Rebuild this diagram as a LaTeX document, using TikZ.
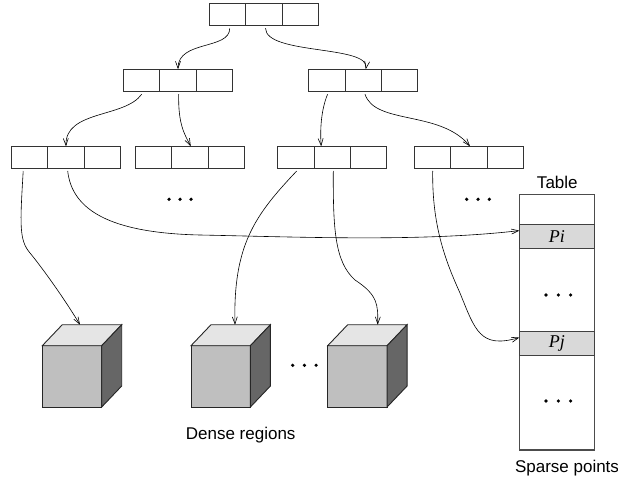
\documentclass[tikz,border=0pt]{standalone}
\usepackage{fontspec}
\setmainfont{Liberation Sans}
\newfontfamily\tnrfont{Liberation Serif}
\usetikzlibrary{arrows.meta,calc}
\newcommand\recnode[3]{%
  \node[cell] (#1b) at (#2,#3) {};
  \node[cell,anchor=east] (#1a) at (#1b.west) {};
  \node[cell,anchor=west] (#1c) at (#1b.east) {};}
\newcommand\cubeshape[3]{%
  \node[cubefront,anchor=north west] (#1) at (#2,#3) {};
  \draw[cubeline,fill=black!10] (#1.north west) -- ++(20,-21) -- ++(59.4,0) -- (#1.north east) -- cycle;
  \draw[cubeline,fill=black!60] (#1.north east) -- ++(20,-21) -- ++(0,61.3) -- (#1.south east) -- cycle;}
\newcommand\threedots[3]{%
  \fill (#1,#3) circle (1.8) (#1+#2,#3) circle (1.8) (#1+2*#2,#3) circle (1.8);}
\begin{document}
\begin{tikzpicture}[x=1pt,y=-1pt,
  cell/.style={draw=black!80,line width=0.9pt,minimum width=36.3pt,minimum height=22pt,inner sep=0pt,outer sep=0pt},
  link/.style={line width=0.6pt,-{Straight Barb[length=7pt,width=5pt]}},
  cubeline/.style={draw=black!85,line width=0.9pt,line join=miter},
  cubefront/.style={cubeline,fill=black!25,minimum width=59.4pt,minimum height=61.3pt,inner sep=0pt,outer sep=0pt},
  lbl/.style={font=\fontsize{17}{20}\selectfont,inner sep=0pt,anchor=base},
  row/.style={draw=black!75,line width=0.9pt,fill=black!15,minimum width=75pt,minimum height=23.7pt,inner sep=0pt,outer sep=0pt,anchor=north west,font=\fontsize{18}{20}\selectfont\tnrfont\itshape}]
\useasboundingbox (0,0) rectangle (618,481);

% records
\recnode{t}{264}{14.3}
\recnode{p}{178}{80.2}
\recnode{q}{363.3}{80.2}
\recnode{a}{66}{157.3}
\recnode{b}{189.8}{157.3}
\recnode{c}{332.2}{157.3}
\recnode{d}{468.8}{157.3}

% cubes
\cubeshape{cubeA}{42.3}{345.7}
\cubeshape{cubeB}{191}{345.7}
\cubeshape{cubeC}{327.7}{345.7}
\coordinate (kA) at (80,324.7);
\coordinate (kB) at (235,324.7);
\coordinate (kC) at (377.7,324.7);

% table
\node[draw=black!70,line width=1.1pt,minimum width=75pt,minimum height=255.7pt,inner sep=0pt,outer sep=0pt,anchor=north west] (tab) at (519.3,194.3) {};
\node[row] (rowi) at (519.3,224.3) {Pi};
\node[row] (rowj) at (519.3,331.7) {Pj};

% labels
\node[lbl] (tabl) at (557.3,189) {Table};
\node[lbl] (dense) at (240.7,439.3) {Dense regions};
\node[lbl] (sparse) at (567,472) {Sparse points};

% dots
\threedots{169}{11}{199.3}
\threedots{466.7}{11.3}{199.3}
\threedots{292.7}{11.7}{365.3}
\threedots{546}{12.3}{295}
\threedots{546}{12.3}{401}

% tree connectors
\draw[link] ([shift={(2,3)}]ta.south) .. controls (230,50) and (178,40) .. (pb.north);
\draw[link] ([shift={(1.5,3)}]tb.south) .. controls (266,55) and (370,45) .. ([xshift=2.5]qb.north);
\draw[link] ([shift={(0,3)}]pa.south) .. controls (125,118) and (65,110) .. (ab.north);
\draw[link] ([shift={(0.7,3)}]pb.south) .. controls (178,125) and (185,135) .. ([xshift=1]bb.north);
\draw[link] ([shift={(0.6,3)}]qa.south) .. controls (321,110) and (320,130) .. ([xshift=-11]cb.north);
\draw[link] ([shift={(1.7,3)}]qb.south) .. controls (375,125) and (440,110) .. ([xshift=1.2]db.north);

% leaf connectors
\draw[link] ([shift={(-6.5,2.7)}]aa.south) .. controls (20,225) and (19,240) .. (30,253) .. controls (40,265) and (62,295) .. (kA);
\draw[link] ([shift={(1.7,2.7)}]ab.south) .. controls (72,210) and (110,233) .. (200,235) .. controls (300,237) and (420,242) .. ([yshift=5.5]rowi.west);
\draw[link] ([shift={(0.8,2.7)}]ca.south) .. controls (255,215) and (233,245) .. (kB);
\draw[link] ([shift={(1.1,2.7)}]cb.south) .. controls (333,230) and (335,262) .. (355,280) .. controls (378,295) and (378,305) .. (kC);
\draw[link] ([shift={(0.2,2.7)}]da.south) .. controls (432,225) and (445,260) .. (460,293) .. controls (475,330) and (480,349) .. ([yshift=6]rowj.west);
\end{tikzpicture}
\end{document}
